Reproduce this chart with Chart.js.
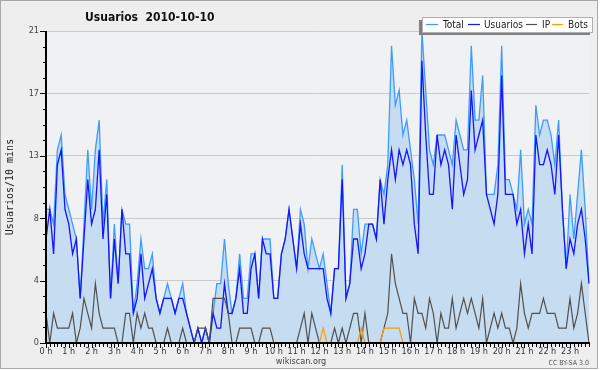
<!DOCTYPE html>
<html><head><meta charset="utf-8">
<style>html,body{margin:0;padding:0;background:#fff}canvas{display:block}</style>
<script src="https://cdn.jsdelivr.net/npm/chart.js@4.4.1/dist/chart.umd.min.js"></script>
</head><body>
<canvas id="c" width="600" height="370"></canvas>
<script>
const TITLE = 'Usuarios  2010-10-10';
const Y_TITLE = 'Usuarios/10 mins';
const FOOTER = 'wikiscan.org';
const LICENSE = 'CC BY-SA 3.0';
const SERIES_NAMES = ['Total', 'Usuarios', 'IP', 'Bots'];
const HOUR_LABELS = ['0 h','1 h','2 h','3 h','4 h','5 h','6 h','7 h','8 h','9 h','10 h','11 h','12 h','13 h','14 h','15 h','16 h','17 h','18 h','19 h','20 h','21 h','22 h','23 h'];
const Y_TICK_VALUES = [0, 4.2, 8.4, 12.6, 16.8, 21];
const Y_TICK_LABELS = ['0', '4', '8', '13', '17', '21'];

const TIMES = [];
for (let h = 0; h < 24; h++) for (let m = 0; m < 60; m += 10) TIMES.push(String(h).padStart(2,'0') + ':' + String(m).padStart(2,'0'));

const TOTAL = [
 9,9,8,13,14,10,9,8,7,3,
 8,13,9,13,15,8,11,3,8,4,
 9,8,8,2,4,7,5,5,6,3,
 2,3,4,3,2,3,4,2,1,0,
 1,0,1,0,2,4,4,7,4,2,
 3,6,3,3,6,6,3,7,7,7,
 3,3,6,7,9,7,5,9,8,5,
 7,6,5,6,4,2,5,5,12,3,
 4,9,9,6,8,8,8,7,11,10,
 12,20,16,17,14,15,13,11,8,21,
 17,13,12,14,14,14,13,12,15,14,
 13,13,20,15,15,18,10,10,10,12,
 20,11,11,10,9,13,8,9,8,16,
 14,15,15,14,12,15,9,5,10,7,
 10,13,9,4];
const USUARIOS = [
 7,9,6,12,13,9,8,6,7,3,
 7,11,8,9,13,7,10,3,7,4,
 9,6,6,2,3,6,3,4,5,3,
 2,3,3,3,2,3,3,2,1,0,
 1,0,1,0,2,1,1,4,2,2,
 3,5,2,2,5,6,3,7,6,6,
 3,3,6,7,9,7,5,8,6,5,
 5,5,5,5,3,2,5,5,11,3,
 4,7,7,5,6,8,8,7,11,8,
 11,13,11,13,12,13,12,8,6,19,
 14,10,10,14,12,13,12,9,14,12,
 10,11,17,13,14,15,10,9,8,10,
 18,10,10,10,8,9,6,8,6,14,
 12,12,13,12,10,14,9,5,7,6,
 8,9,7,4];
const IP = [
 2,0,2,1,1,1,1,2,0,1,
 3,2,1,4,2,1,1,1,1,0,
 0,2,2,0,2,1,2,1,1,0,
 0,0,1,0,0,0,1,0,0,0,
 1,1,1,0,3,3,3,3,2,0,
 0,1,1,1,1,0,0,1,1,1,
 0,0,0,0,0,0,0,1,2,0,
 2,1,0,0,0,0,1,0,1,0,
 1,2,2,0,2,0,0,0,0,1,
 2,6,4,3,2,2,0,3,2,2,
 1,3,2,0,2,1,1,3,1,2,
 3,2,3,2,1,3,0,1,2,1,
 2,1,1,0,1,4,2,1,2,2,
 2,3,2,2,2,1,1,1,3,1,
 2,4,2,0];
const BOTS = [
 0,0,0,0,0,0,0,0,0,0,
 0,0,0,0,0,0,0,0,0,0,
 0,0,0,0,0,0,0,0,0,0,
 0,0,0,0,0,0,0,0,0,0,
 0,0,0,0,0,0,0,0,0,0,
 0,0,0,0,0,0,0,0,0,0,
 0,0,0,0,0,0,0,0,0,0,
 0,0,0,1,0,0,0,0,0,0,
 0,0,0,1,0,0,0,0,0,1,
 1,1,1,1,0,0,0,0,0,0,
 0,0,0,0,0,0,0,0,0,0,
 0,0,0,0,0,0,0,0,0,0,
 0,0,0,0,0,0,0,0,0,0,
 0,0,0,0,0,0,0,0,0,0,
 0,0,0,0];

const COLORS = ['#3d9cff', '#1414ff', '#505050', '#ff9a00'];
const FILL = '#c6dcf1';
const FONT = "'DejaVu Sans Condensed','DejaVu Sans',sans-serif";

const decor = {
  id: 'decor',
  beforeDraw(chart) {
    const c = chart.ctx, a = chart.chartArea;
    c.save();
    c.fillStyle = '#ffffff'; c.fillRect(0, 0, 600, 370);
    c.fillStyle = '#eeeeee'; c.fillRect(0, 0, 598, 369);
    c.strokeStyle = '#a9a9a9'; c.lineWidth = 1; c.strokeRect(0.5, 0.5, 597, 368);
    c.fillStyle = '#f0f1f3'; c.fillRect(a.left, a.top, a.right - a.left, a.bottom - a.top);
    c.restore();
  },
  afterDatasetsDraw(chart) {
    const c = chart.ctx, a = chart.chartArea, xs = chart.scales.x, ys = chart.scales.y;
    c.save();
    c.strokeStyle = '#000'; c.lineWidth = 1;
    for (let i = 0; i < TIMES.length; i++) {
      const x = Math.round(xs.getPixelForValue(i)) + 0.5;
      c.beginPath(); c.moveTo(x, a.bottom); c.lineTo(x, a.bottom + (i % 6 === 0 ? 5 : 4)); c.stroke();
    }
    const top = Y_TICK_VALUES[Y_TICK_VALUES.length - 1];
    for (let k = 0; k <= 20; k++) {
      const y = Math.round(ys.getPixelForValue(k * top / 20)) + 0.5;
      c.beginPath(); c.moveTo(a.left, y); c.lineTo(a.left - (k % 4 === 0 ? 6 : 3), y); c.stroke();
    }
    c.lineWidth = 2;
    c.beginPath(); c.moveTo(a.left, a.top); c.lineTo(a.left, a.bottom + 1); c.stroke();
    c.beginPath(); c.moveTo(a.left - 1, a.bottom); c.lineTo(a.right + 1, a.bottom); c.stroke();
    c.restore();
  },
  afterDraw(chart) {
    const c = chart.ctx;
    c.save();
    c.fillStyle = '#111';
    c.font = 'bold 12px ' + FONT;
    c.textBaseline = 'alphabetic'; c.textAlign = 'left';
    c.fillText(TITLE, 85, 21);
    // legend box
    c.fillStyle = '#808080'; c.fillRect(419, 20, 171, 15);
    c.fillStyle = '#ffffff'; c.fillRect(422, 17, 171, 15);
    c.strokeStyle = '#b0b0b0'; c.lineWidth = 1; c.strokeRect(422.5, 17.5, 170, 15);
    const items = [[426, 438, 443], [468, 480, 484], [526, 537, 542], [552, 563, 568]];
    c.font = '10px ' + FONT; c.textBaseline = 'middle';
    for (let k = 0; k < 4; k++) {
      const it = items[k];
      c.strokeStyle = COLORS[k]; c.lineWidth = 1.2;
      c.beginPath(); c.moveTo(it[0], 24.5); c.lineTo(it[1], 24.5); c.stroke();
      c.fillStyle = '#222'; c.fillText(SERIES_NAMES[k], it[2], 25);
    }
    c.fillStyle = '#444'; c.font = '9px ' + FONT; c.textAlign = 'center';
    c.fillText(FOOTER, 301, 362);
    c.fillStyle = '#555'; c.font = '7px ' + FONT; c.textAlign = 'right';
    c.fillText(LICENSE, 589, 363);
    c.restore();
  }
};

const mk = (k, data, extra) => Object.assign({
  label: SERIES_NAMES[k], data, borderColor: COLORS[k], borderWidth: 1.2,
  pointRadius: 0, pointHoverRadius: 0, tension: 0, fill: false
}, extra);

new Chart(document.getElementById('c'), {
  type: 'line',
  data: {
    labels: TIMES,
    datasets: [
      mk(0, TOTAL, { fill: 'origin', backgroundColor: FILL, order: 4, borderWidth: 1.3 }),
      mk(1, USUARIOS, { order: 3, borderWidth: 1.3 }),
      mk(2, IP, { order: 2 }),
      mk(3, BOTS, { order: 1 })
    ]
  },
  options: {
    responsive: false, animation: false, devicePixelRatio: 1,
    layout: { padding: { top: 31, right: 11, left: 0, bottom: 0 } },
    plugins: { legend: { display: false }, tooltip: { enabled: false }, title: { display: false } },
    scales: {
      x: {
        type: 'category', offset: false,
        grid: { display: false, drawTicks: false }, border: { display: false },
        ticks: {
          autoSkip: false, maxRotation: 0, minRotation: 0, padding: 3, color: '#333',
          font: { family: FONT, size: 9 },
          callback: (v, i) => (i % 6 === 0 ? HOUR_LABELS[i / 6] : '')
        },
        afterFit: (s) => { s.height = 27; }
      },
      y: {
        type: 'linear', min: 0, max: 21,
        afterBuildTicks: (s) => { s.ticks = Y_TICK_VALUES.map(v => ({ value: v })); },
        grid: { color: '#cacaca', lineWidth: 1, drawTicks: false }, border: { display: false },
        ticks: {
          padding: 7, color: '#444', font: { family: FONT, size: 9 },
          callback: (v, i) => Y_TICK_LABELS[i]
        },
        title: { display: true, text: Y_TITLE, color: '#222', font: { family: "'DejaVu Sans Mono',monospace", size: 10 }, padding: { top: 4, bottom: 0 } },
        afterFit: (s) => { s.width = 46; }
      }
    }
  },
  plugins: [decor]
});
</script>
</body></html>
